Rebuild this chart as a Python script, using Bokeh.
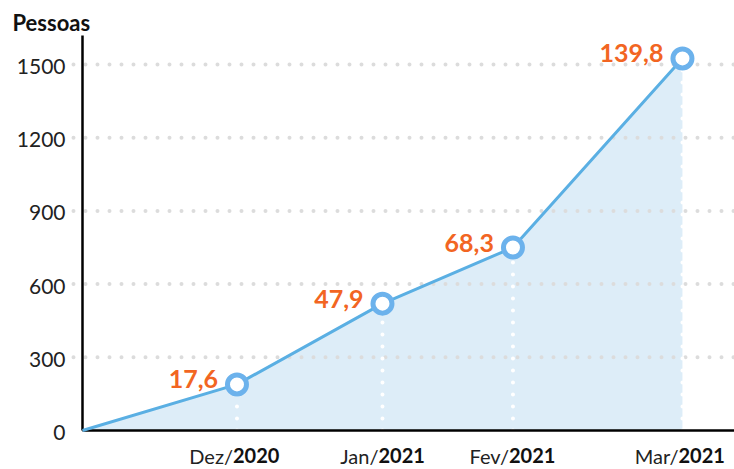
from bokeh.plotting import figure
from bokeh.models import Range1d
from bokeh.core.properties import value
from bokeh.embed import file_html
from bokeh.resources import INLINE

# ---- data ----
months = ["Dez/", "Jan/", "Fev/", "Mar/"]
years = ["2020", "2021", "2021", "2021"]
x_pos = [0.0, 1.03, 2.0, 2.87, 4.0]          # first entry is the origin of the curve
people = [0, 189, 520, 750, 1525]             # Pessoas
rate_labels = ["17,6", "47,9", "68,3", "139,8"]
y_ticks = [0, 300, 600, 900, 1200, 1500]
y_tick_labels = [str(t) for t in y_ticks]

FONT = "Lato"
ORANGE = "#f26522"
LINE = "#5aafe3"
MARK = "#6cb2ec"
FILL = "#ddedf8"
GRID = "#dcdcdc"

X0, X1 = -0.5467, 4.347      # frame spans the whole canvas
Y0, Y1 = -159.8, 1762.3
AXIS_TOP = 1619
GRID_LEFT = -0.06

p = figure(width=734, height=469, output_backend="svg", toolbar_location=None,
           x_range=Range1d(X0, X1), y_range=Range1d(Y0, Y1),
           min_border=0, x_axis_type=None, y_axis_type=None)
p.outline_line_color = None
p.background_fill_color = "white"
p.grid.visible = False

# area
p.varea(x=x_pos, y1=[0] * len(x_pos), y2=people, fill_color=FILL)

# horizontal dotted grid
gy = y_ticks[1:]
p.segment(x0=[GRID_LEFT] * len(gy), x1=[X1] * len(gy), y0=gy, y1=gy,
          line_color=GRID, line_width=4, line_dash="0 12", line_cap="round")
# vertical white dotted guides inside the area
p.segment(x0=x_pos[1:], x1=x_pos[1:], y0=[0] * 4, y1=people[1:],
          line_color="white", line_width=4, line_dash="0 12", line_cap="round")

# axes lines
p.segment(x0=[0, 0], y0=[0, 0], x1=[0, X1], y1=[AXIS_TOP, 0],
          line_color="black", line_width=2.5)

# line + markers
p.line(x=x_pos, y=people, line_color=LINE, line_width=3)
p.scatter(x=x_pos[1:], y=people[1:], size=19, fill_color="white",
          line_color=MARK, line_width=5)

# value labels
p.text(x=x_pos[1:], y=people[1:], text=rate_labels, text_align="right",
       text_baseline="middle", x_offset=-19, y_offset=-5,
       text_font=value(FONT), text_font_style="bold", text_font_size="25px",
       text_color=ORANGE)

# y tick labels
p.text(x=[0] * len(y_ticks), y=y_ticks, text=y_tick_labels, text_align="right",
       text_baseline="middle", x_offset=-17, y_offset=2,
       text_font=value(FONT), text_font_size="21px", text_color="#222222")

# category labels with mixed weights
p.text(x=x_pos[1:], y=[0] * 4, text=months, text_align="right", text_baseline="alphabetic",
       x_offset=-4, y_offset=25, text_font=value(FONT), text_font_size="20px",
       text_color="#222222")
p.text(x=x_pos[1:], y=[0] * 4, text=years, text_align="left", text_baseline="alphabetic",
       x_offset=-4, y_offset=25, text_font=value(FONT), text_font_size="20px",
       text_font_style="bold", text_color="#111111")

# axis title
p.text(x=[0], y=[AXIS_TOP], text=["Pessoas"], text_align="left", text_baseline="alphabetic",
       x_offset=-70, y_offset=-13, text_font=value(FONT), text_font_size="22px",
       text_font_style="bold", text_color="#111111")

open("out.html", "w").write(file_html(p, INLINE))
